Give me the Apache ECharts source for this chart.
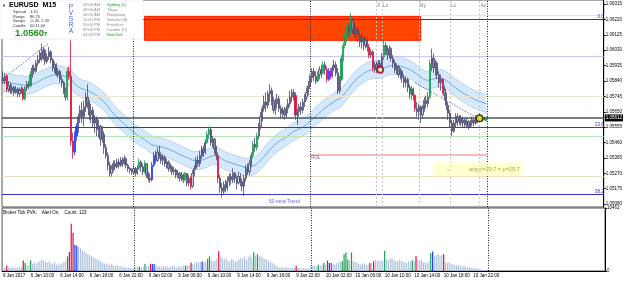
<!DOCTYPE html>
<html>
<head>
<meta charset="utf-8">
<script src="https://cdn.jsdelivr.net/npm/echarts@6/dist/echarts.min.js"></script>
<style>
  html, body { margin: 0; padding: 0; background: #fff; }
  #main { width: 625px; height: 281px; }
</style>
</head>
<body>
<div id="main"></div>
<script>
const dom = document.getElementById('main');
const chart = echarts.init(dom, null, { renderer: 'canvas' });
const FONT = '"Liberation Sans", Arial, sans-serif';

// ---- EURUSD M15 (open = previous close) ----
const firstOpen = 1.0586;
const closes = [
  1.0584,1.0587,1.0579,1.0581,1.0578,1.0580,1.0577,1.0579,
  1.0576,1.0578,1.0579,1.0573,1.0580,1.0582,1.0581,1.0588,
  1.0592,1.0590,1.0595,1.0597,1.0601,1.0598,1.0603,1.0596,
  1.0599,1.0602,1.0597,1.0592,1.0594,1.0588,1.0590,1.0585,
  1.0583,1.0578,1.0574,1.0590,1.0587,1.0547,1.0540,1.0550,
  1.0556,1.0562,1.0566,1.0562,1.0568,1.0574,1.0570,1.0563,
  1.0566,1.0558,1.0561,1.0554,1.0556,1.0548,1.0551,1.0543,
  1.0538,1.0532,1.0527,1.0530,1.0533,1.0531,1.0534,1.0532,
  1.0535,1.0533,1.0536,1.0532,1.0530,1.0529,1.0528,1.0530,
  1.0527,1.0530,1.0534,1.0531,1.0528,1.0533,1.0526,1.0524,
  1.0523,1.0532,1.0538,1.0535,1.0540,1.0538,1.0535,1.0537,
  1.0533,1.0534,1.0530,1.0531,1.0528,1.0529,1.0526,1.0527,
  1.0524,1.0526,1.0523,1.0527,1.0521,1.0524,1.0519,1.0527,
  1.0530,1.0535,1.0533,1.0538,1.0542,1.0540,1.0546,1.0551,
  1.0554,1.0546,1.0548,1.0542,1.0538,1.0524,1.0518,1.0516,
  1.0520,1.0518,1.0522,1.0525,1.0523,1.0527,1.0524,1.0521,
  1.0525,1.0522,1.0519,1.0524,1.0530,1.0528,1.0533,1.0538,
  1.0545,1.0543,1.0550,1.0556,1.0562,1.0567,1.0571,1.0569,
  1.0576,1.0578,1.0572,1.0566,1.0570,1.0573,1.0567,1.0564,
  1.0566,1.0563,1.0567,1.0570,1.0574,1.0577,1.0575,1.0563,
  1.0565,1.0568,1.0566,1.0571,1.0574,1.0577,1.0581,1.0586,
  1.0590,1.0587,1.0584,1.0588,1.0591,1.0589,1.0594,1.0591,
  1.0585,1.0590,1.0587,1.0592,1.0594,1.0589,1.0578,1.0585,
  1.0598,1.0606,1.0612,1.0617,1.0614,1.0621,1.0616,1.0613,
  1.0616,1.0612,1.0608,1.0611,1.0606,1.0609,1.0605,1.0600,
  1.0602,1.0592,1.0594,1.0591,1.0595,1.0593,1.0599,1.0606,
  1.0603,1.0600,1.0604,1.0598,1.0595,1.0591,1.0593,1.0588,
  1.0590,1.0586,1.0583,1.0585,1.0580,1.0576,1.0579,1.0575,
  1.0567,1.0565,1.0568,1.0563,1.0567,1.0572,1.0570,1.0574,
  1.0595,1.0598,1.0592,1.0595,1.0588,1.0583,1.0585,1.0579,
  1.0575,1.0569,1.0564,1.0558,1.0553,1.0558,1.0562,1.0559,
  1.0561,1.0558,1.0560,1.0557,1.0559,1.0556,1.0558,1.0560,
  1.0558,1.0561,1.0560,1.0562,1.0561,1.0560,1.0561,1.05612
];
const highs = [
  1.0590,1.0589,1.0588,1.0584,1.0583,1.0582,1.0581,1.0581,
  1.0580,1.0580,1.0581,1.0580,1.0581,1.0584,1.0584,1.0590,
  1.0594,1.0594,1.0597,1.0600,1.0603,1.0607,1.0605,1.0604,
  1.0601,1.0605,1.0603,1.0598,1.0596,1.0595,1.0592,1.0591,
  1.0587,1.0584,1.0580,1.0592,1.0593,1.0609,1.0552,1.0553,
  1.0558,1.0564,1.0569,1.0571,1.0572,1.0577,1.0582,1.0572,
  1.0570,1.0568,1.0563,1.0562,1.0560,1.0557,1.0556,1.0553,
  1.0545,1.0540,1.0534,1.0532,1.0535,1.0535,1.0536,1.0536,
  1.0537,1.0537,1.0538,1.0537,1.0533,1.0531,1.0530,1.0532,
  1.0531,1.0532,1.0536,1.0535,1.0533,1.0535,1.0533,1.0528,
  1.0527,1.0534,1.0540,1.0541,1.0543,1.0544,1.0540,1.0539,
  1.0538,1.0536,1.0535,1.0533,1.0532,1.0531,1.0530,1.0529,
  1.0528,1.0528,1.0527,1.0528,1.0527,1.0526,1.0525,1.0529,
  1.0532,1.0537,1.0538,1.0541,1.0544,1.0544,1.0548,1.0553,
  1.0556,1.0555,1.0550,1.0549,1.0544,1.0540,1.0526,1.0521,
  1.0522,1.0523,1.0525,1.0527,1.0527,1.0530,1.0528,1.0526,
  1.0528,1.0527,1.0524,1.0526,1.0532,1.0533,1.0535,1.0540,
  1.0547,1.0549,1.0552,1.0558,1.0565,1.0569,1.0575,1.0577,
  1.0578,1.0582,1.0580,1.0574,1.0573,1.0576,1.0575,1.0569,
  1.0568,1.0568,1.0569,1.0573,1.0578,1.0579,1.0579,1.0577,
  1.0567,1.0570,1.0571,1.0573,1.0576,1.0580,1.0584,1.0588,
  1.0592,1.0592,1.0590,1.0590,1.0593,1.0594,1.0596,1.0596,
  1.0593,1.0592,1.0592,1.0594,1.0597,1.0596,1.0592,1.0587,
  1.0600,1.0608,1.0614,1.0619,1.0620,1.0626,1.0623,1.0620,
  1.0618,1.0617,1.0614,1.0613,1.0612,1.0611,1.0610,1.0607,
  1.0604,1.0603,1.0596,1.0596,1.0597,1.0597,1.0601,1.0619,
  1.0608,1.0606,1.0606,1.0605,1.0600,1.0597,1.0595,1.0594,
  1.0592,1.0591,1.0588,1.0587,1.0586,1.0582,1.0581,1.0580,
  1.0576,1.0571,1.0570,1.0569,1.0569,1.0574,1.0575,1.0577,
  1.0597,1.0604,1.0601,1.0597,1.0596,1.0590,1.0588,1.0586,
  1.0581,1.0577,1.0571,1.0566,1.0560,1.0560,1.0564,1.0564,
  1.0563,1.0563,1.0562,1.0561,1.0561,1.0560,1.0560,1.0562,
  1.0561,1.0563,1.0562,1.0564,1.0563,1.0562,1.0562,1.0562
];
const lows = [
  1.0582,1.0582,1.0577,1.0577,1.0576,1.0576,1.0575,1.0576,
  1.0574,1.0574,1.0576,1.0572,1.0572,1.0578,1.0579,1.0580,
  1.0586,1.0588,1.0589,1.0593,1.0595,1.0596,1.0597,1.0594,
  1.0595,1.0597,1.0595,1.0590,1.0589,1.0587,1.0586,1.0583,
  1.0580,1.0576,1.0572,1.0572,1.0585,1.0544,1.0536,1.0538,
  1.0547,1.0552,1.0558,1.0558,1.0556,1.0565,1.0567,1.0560,
  1.0558,1.0555,1.0552,1.0550,1.0549,1.0544,1.0546,1.0539,
  1.0536,1.0529,1.0525,1.0525,1.0528,1.0529,1.0530,1.0530,
  1.0531,1.0531,1.0532,1.0530,1.0528,1.0527,1.0526,1.0526,
  1.0525,1.0526,1.0529,1.0528,1.0526,1.0527,1.0524,1.0522,
  1.0521,1.0522,1.0531,1.0533,1.0534,1.0536,1.0533,1.0532,
  1.0531,1.0530,1.0528,1.0528,1.0526,1.0526,1.0524,1.0524,
  1.0522,1.0522,1.0521,1.0522,1.0519,1.0519,1.0517,1.0518,
  1.0525,1.0529,1.0531,1.0531,1.0536,1.0537,1.0539,1.0545,
  1.0548,1.0544,1.0543,1.0539,1.0535,1.0521,1.0515,1.0512,
  1.0514,1.0515,1.0516,1.0519,1.0520,1.0521,1.0521,1.0517,
  1.0520,1.0519,1.0516,1.0513,1.0522,1.0526,1.0526,1.0531,
  1.0536,1.0540,1.0541,1.0548,1.0554,1.0559,1.0565,1.0565,
  1.0567,1.0571,1.0569,1.0564,1.0563,1.0567,1.0565,1.0561,
  1.0561,1.0560,1.0561,1.0564,1.0568,1.0571,1.0572,1.0560,
  1.0557,1.0562,1.0563,1.0564,1.0568,1.0572,1.0575,1.0579,
  1.0583,1.0584,1.0582,1.0583,1.0585,1.0586,1.0588,1.0588,
  1.0583,1.0584,1.0585,1.0586,1.0590,1.0587,1.0576,1.0576,
  1.0584,1.0596,1.0604,1.0608,1.0611,1.0612,1.0613,1.0611,
  1.0610,1.0608,1.0605,1.0604,1.0603,1.0604,1.0602,1.0598,
  1.0598,1.0590,1.0589,1.0589,1.0590,1.0591,1.0592,1.0597,
  1.0600,1.0597,1.0598,1.0596,1.0592,1.0589,1.0588,1.0586,
  1.0585,1.0583,1.0580,1.0580,1.0577,1.0573,1.0572,1.0572,
  1.0565,1.0562,1.0560,1.0558,1.0561,1.0565,1.0567,1.0568,
  1.0573,1.0590,1.0589,1.0587,1.0585,1.0580,1.0578,1.0576,
  1.0572,1.0566,1.0560,1.0555,1.0550,1.0552,1.0555,1.0556,
  1.0557,1.0556,1.0555,1.0555,1.0555,1.0554,1.0555,1.0556,
  1.0556,1.0557,1.0558,1.0559,1.0559,1.0559,1.0560,1.0560
];
// PVSRA bar class: g/r climax, b/m rising volume, . normal
const pvsra = [
  '..r.....', '...rg..g', '........', '........', '...grrrb', 'b.......',
  '........', '........', '........', '..g..g..', 'rbb.....', '........',
  '...g..r.', '....b..g', 'g....r..', '........', '........', 'g.g.....',
  '........', '.......r', '........', '...g..g.', 'rbm.....', 'gggg.g..',
  '.......r', '.r.....g', '........', '......g.', 'r.......', 'gb.....r',
  '........', '........', '........'
].join('');
const volumes = [
  700,600,900,650,500,700,550,600,
  500,650,700,1750,1340,900,1000,1750,
  1200,1400,1300,1500,1600,1900,1700,1500,
  1400,1600,1300,1200,1400,1100,1000,1300,
  1200,1500,1600,2440,3140,7850,6300,4360,
  4190,4000,3800,3500,3300,3000,2800,2600,
  2500,2300,2100,2000,1800,1600,1400,1200,
  1300,1100,1000,1200,900,800,1000,700,
  800,600,700,500,600,500,400,500,
  600,700,750,600,700,1170,800,900,
  1200,1170,1170,900,700,800,600,900,
  700,800,600,700,900,800,600,700,
  800,700,900,870,1000,900,1400,1200,
  1300,1600,1400,1500,1570,1500,1600,2040,
  2440,1800,1600,1700,2000,3300,2400,2100,
  1900,2200,1700,1600,2000,1800,1500,1700,
  1900,2200,2000,2400,1800,2300,2600,2100,
  3100,2500,2800,2500,2400,2200,2000,1900,
  1700,1500,1300,1200,1000,700,600,650,
  500,550,600,500,450,500,600,870,
  500,450,400,500,450,400,450,800,
  900,850,700,1050,900,1000,1340,1100,
  1740,1340,1340,1200,1100,1300,1400,1500,
  1620,2800,3080,1920,1700,3080,1600,1500,
  1400,1200,1100,1300,1200,1000,1100,1340,
  1300,1620,1900,1700,1600,1800,1700,3370,
  2000,1800,2200,2000,1900,1700,1600,1900,
  1700,1500,1400,1300,1600,1500,1740,1600,
  2490,1900,1700,1800,1400,1500,1300,1600,
  3000,3250,2400,2600,2800,2500,2700,2800,
  1400,1300,1400,1200,1100,1000,900,1000,
  800,700,900,700,600,700,500,600,
  400,500,350,300,150,100,80,40
];

const slots = 327; // bars + empty right shift
const tickIdx = [0, 15, 31, 47, 63, 79, 95, 111, 127, 143, 159, 175, 191, 207, 223, 239, 255];
const tickText = ['6 Jan 2017', '6 Jan 10:00', '6 Jan 14:00', '6 Jan 18:00', '6 Jan 22:00',
  '9 Jan 02:00', '9 Jan 06:00', '9 Jan 10:00', '9 Jan 14:00', '9 Jan 18:00', '9 Jan 22:00',
  '10 Jan 02:00', '10 Jan 06:00', '10 Jan 10:00', '10 Jan 14:00', '10 Jan 18:00', '10 Jan 22:00'];
const priceTicks = [1.05080, 1.05175, 1.05270, 1.05365, 1.05460, 1.05555, 1.05650,
  1.05745, 1.05840, 1.05935, 1.06030, 1.06125, 1.06220, 1.06315];
const volTicks = [0, 10461];

const emaPeriod = 50;
const emaSeed = 1.0583;
const bandHalf = 0.00055;

const daySeps = [71, 167, 263];
const sessionIdx = [203, 206, 226, 243, 259];
const sessionNames = ['F', 'Ls', 'Ny', 'Lc', 'Ac'];
const fibPrices = [1.06220, 1.05552, 1.05141];
const fibNames = ['0.0', '23.6', '38.2'];
const levelPrices = [1.05993, 1.05748, 1.05497, 1.05252];
const lastPrice = 1.05612;
const rolLine = [167, 263, 1.05387];
const topBeige = [227, 326, 1.06245];
const zoneBox = [77, 227, 1.06239, 1.06091];
const trendA = [[2, 1.05871], [25, 1.06075]];
const trendB = [[224, 1.05830], [257, 1.05615]];
const ringPt = [205, 1.0591];
const yellowPt = [259, 1.0561];
const arrowPt = [262, 1.0560];
const emaTextPt = [153, 1.05098];
const avgTextPt = [234, 1.05295];

// ---- build ----
const cats = Array.from({ length: slots }, (_, i) => String(i));
const classColor = { g: '#12a24f', r: '#e0103a', b: '#1f3dff', m: '#c41cc4' };

const candles = closes.map((c, i) => {
  const o = i === 0 ? firstOpen : closes[i - 1];
  const item = { value: [o, c, lows[i], highs[i]] };
  const col = classColor[pvsra[i]];
  if (col) item.itemStyle = { color: col, color0: col, borderColor: col, borderColor0: col };
  return item;
});
const volBars = volumes.map((v, i) => ({
  value: v,
  itemStyle: { color: classColor[pvsra[i]] || '#b0c4de' }
}));

const k = 2 / (emaPeriod + 1);
let e = emaSeed;
const ema = closes.map((c) => { e = e + k * (c - e); return +e.toFixed(5); });
const bandLow = ema.map((v) => +(v - bandHalf).toFixed(5));
const bandWidth = ema.map(() => 2 * bandHalf);

const tickSet = new Set(tickIdx);
const levelColors = ['#cdc6f2', '#e9e4cf', '#b6e6b6', '#e9e1c2'];
const noLabel = { show: false };
const small = { fontFamily: FONT, fontSize: 4.5 };

const levelLines = [
  ...fibPrices.map((p, i) => ({
    yAxis: p, lineStyle: { color: '#3535c8', width: 1, type: 'solid' },
    label: { show: true, position: 'insideEndTop', formatter: fibNames[i], color: '#3535c8', distance: 0, ...small }
  })),
  ...levelPrices.map((p, i) => ({ yAxis: p, lineStyle: { color: levelColors[i], width: 1, type: 'solid' }, label: noLabel })),
  {
    yAxis: lastPrice, lineStyle: { color: '#465a5a', width: 1.5, type: 'solid' },
    label: { show: true, position: 'end', formatter: lastPrice.toFixed(5), color: '#fff',
      backgroundColor: '#000', padding: [1, 1], distance: 1, ...small }
  },
  [
    { coord: [rolLine[0], rolLine[2]], lineStyle: { color: '#f4a4a4', width: 1.5, type: 'solid' },
      label: { show: true, position: 'insideStartBottom', formatter: 'ROL', color: '#7a5a9a', distance: 1, ...small } },
    { coord: [rolLine[1], rolLine[2]] }
  ],
  [
    { coord: [topBeige[0], topBeige[2]], lineStyle: { color: '#eee6d6', width: 1, type: 'solid' }, label: noLabel },
    { coord: [topBeige[1], topBeige[2]] }
  ]
];

const sepLine = (i) => ({ xAxis: i, lineStyle: { color: '#222', width: 1, type: [1, 1.5] }, label: noLabel });
const sessLine = (i) => ({ xAxis: i, lineStyle: { color: '#c4c4cc', width: 1, type: [2, 2] }, label: noLabel });

const txt = (x, y, text, fill, size, weight, align) => ({
  type: 'text', x, y, z: 101,
  style: { text, fill, fontSize: size, fontFamily: FONT, fontWeight: weight || 'normal',
    verticalAlign: 'middle', align: align || 'left' }
});
const rows = [5, 10, 15, 20, 25, 30, 35];
const sessTimes = ['08:00 AM', '08:00 AM', '08:00 AM', '11:00 PM', '10:00 PM', '09:00 PM', '04:00 PM'];
const cities = ['Sydney (L)', 'Tokyo', 'Hongkong', 'Helsinki (B)', 'Frankfurt', 'London (O)', 'NewYork'];
const cityCol = ['#22a022', '#8a8a8a', '#8a8a8a', '#8a8a8a', '#8a8a8a', '#8a8a8a', '#22a022'];

const graphic = [
  { type: 'rect', shape: { x: 0, y: 0, width: 143, height: 39 }, z: 100,
    style: { fill: '#fff', stroke: '#e2e2e2', lineWidth: 0.5 } },
  txt(2, 5.5, '▼', '#111', 4),
  txt(9, 5.5, 'EURUSD  M15', '#000', 7, 'bold'),
  txt(13, 12, 'Spread', '#333', 4), txt(30, 12, '1.10', '#333', 4),
  txt(13, 16.5, 'Range', '#333', 4), txt(30, 16.5, '86.70', '#333', 4),
  txt(13, 21, 'Swaps', '#333', 4), txt(30, 21, '-5.30, 2.49', '#333', 4),
  txt(13, 25.5, 'Candle', '#333', 4), txt(30, 25.5, '00:11:00', '#333', 4),
  txt(15, 33, '1.0560', '#1e8c1e', 9.5, 'bold'),
  txt(44, 34, '7', '#1e8c1e', 6, 'bold'),
  ...['P', 'V', 'S', 'R', 'A'].map((l, i) => txt(71, 7.5 + i * 6, l, '#3d5fd0', 6.5, 'normal', 'center')),
  ...rows.map((y, i) => txt(83, y, sessTimes[i], '#8a8a8a', 4)),
  ...rows.map((y, i) => txt(107, y, cities[i], cityCol[i], 4)),
  txt(3, 212.5, 'Broker Tick PVA:    Alert On,    Count: 123', '#000', 4.5)
];

const option = {
  animation: false,
  backgroundColor: '#fff',
  graphic,
  grid: [
    { left: 2, right: 20, top: 0, height: 207, show: true, borderColor: '#555', borderWidth: 1 },
    { left: 2, right: 20, top: 208, height: 63, show: true, borderColor: '#555', borderWidth: 1 }
  ],
  xAxis: [
    { gridIndex: 0, type: 'category', data: cats, axisLine: { show: false }, axisTick: { show: false },
      axisLabel: { show: false }, splitLine: { show: false } },
    { gridIndex: 1, type: 'category', data: cats,
      axisLine: { lineStyle: { color: '#000', width: 1 } },
      axisTick: { alignWithLabel: true, length: 2, interval: (i) => tickSet.has(i), lineStyle: { color: '#000' } },
      axisLabel: { interval: (i) => tickSet.has(i), formatter: (v, i) => tickText[tickIdx.indexOf(+v)] || '',
        align: 'left', margin: 2, color: '#000', ...small },
      splitLine: { show: false } }
  ],
  yAxis: [
    { gridIndex: 0, type: 'value', position: 'right', min: 1.05062, max: 1.06340, scale: true,
      axisLine: { show: true, lineStyle: { color: '#000' } },
      axisTick: { show: true, length: 2, customValues: priceTicks, lineStyle: { color: '#000' } },
      axisLabel: { customValues: priceTicks, formatter: (v) => v.toFixed(5), margin: 2, color: '#000', ...small },
      splitLine: { show: false } },
    { gridIndex: 1, type: 'value', position: 'right', min: 0, max: 10461,
      axisLine: { show: true, lineStyle: { color: '#000' } },
      axisTick: { show: true, length: 2, customValues: volTicks, lineStyle: { color: '#000' } },
      axisLabel: { customValues: volTicks, formatter: (v) => String(v), margin: 2, color: '#000', ...small },
      splitLine: { show: false } }
  ],
  series: [
    { name: 'zone', type: 'line', xAxisIndex: 0, yAxisIndex: 0, data: [], z: 1, silent: true,
      markArea: { silent: true, itemStyle: { color: '#ff4500', borderColor: '#ff1a00', borderWidth: 1, opacity: 1 },
        data: [[{ xAxis: zoneBox[0], yAxis: zoneBox[2] }, { xAxis: zoneBox[1], yAxis: zoneBox[3] }]] } },
    // invisible carrier for the horizontal level lines
    { name: 'levels', type: 'line', xAxisIndex: 0, yAxisIndex: 0, data: closes, z: 2, silent: true,
      symbol: 'none', lineStyle: { opacity: 0 },
      markLine: { silent: true, precision: 6, symbol: ['none', 'none'], animation: false, data: levelLines } },
    { name: 'bandLow', type: 'line', data: bandLow, stack: 'band', symbol: 'none', z: 3, silent: true,
      lineStyle: { color: '#b6d5f4', width: 1 } },
    { name: 'bandUp', type: 'line', data: bandWidth, stack: 'band', symbol: 'none', z: 3, silent: true,
      lineStyle: { color: '#b6d5f4', width: 1 }, areaStyle: { color: '#d6e9fb', opacity: 1 } },
    { name: 'ema50', type: 'line', data: ema, symbol: 'none', z: 4, silent: true,
      lineStyle: { color: '#4d9de8', width: 0.8 } },
    { name: 'trendA', type: 'line', data: trendA, symbol: 'none', z: 4, silent: true,
      lineStyle: { color: '#5566dd', width: 1, type: [1.5, 1.5] } },
    { name: 'trendB', type: 'line', data: trendB, symbol: 'none', z: 4, silent: true,
      lineStyle: { color: '#5566dd', width: 1, type: [1.5, 1.5] } },
    { name: 'EURUSD', type: 'candlestick', data: candles, z: 5, barWidth: '90%', silent: true,
      itemStyle: { color: '#c8c8d8', color0: '#8c8ca4', borderColor: '#46466e', borderColor0: '#46466e', borderWidth: 0.8 },
      markLine: { silent: true, symbol: ['none', 'none'], animation: false,
        data: [...daySeps.map(sepLine), ...sessionIdx.map(sessLine)] } },
    { name: 'markers', type: 'scatter', z: 6, silent: true,
      data: [
        { value: ringPt, symbol: 'circle', symbolSize: 6, itemStyle: { color: '#fff', borderColor: '#a00000', borderWidth: 2 } },
        { value: yellowPt, symbol: 'circle', symbolSize: 6.5, itemStyle: { color: '#ffee00', borderColor: '#111', borderWidth: 1.3 } },
        { value: arrowPt, symbol: 'triangle', symbolRotate: 90, symbolSize: 4, itemStyle: { color: '#10c010' } }
      ] },
    { name: 'texts', type: 'scatter', z: 7, silent: true, symbolSize: 0,
      data: [
        ...sessionIdx.map((i, n) => ({ value: [i, 1.06305],
          label: { show: true, position: 'right', distance: 1, formatter: sessionNames[n], color: '#606078', fontFamily: FONT, fontSize: 5 } })),
        { value: emaTextPt, label: { show: true, position: 'inside', formatter: '50 ema Trend', color: '#3a3ad0', fontFamily: FONT, fontSize: 5 } },
        { value: avgTextPt, label: { show: true, position: 'right', distance: 0,
          formatter: '{a|→    ·}   {b|avg p=29.7 = p=29.7}', backgroundColor: '#ffffc4', padding: [1, 3, 1, 12],
          rich: { a: { color: '#555', fontSize: 5.5, fontFamily: FONT }, b: { color: '#7a9a10', fontSize: 5.5, fontFamily: FONT } } } }
      ] },
    { name: 'volume', type: 'bar', xAxisIndex: 1, yAxisIndex: 1, data: volBars, barWidth: '65%', silent: true,
      markLine: { silent: true, symbol: ['none', 'none'], animation: false, data: daySeps.map(sepLine) } }
  ]
};

chart.setOption(option);
window.addEventListener('resize', chart.resize);
</script>
</body>
</html>
